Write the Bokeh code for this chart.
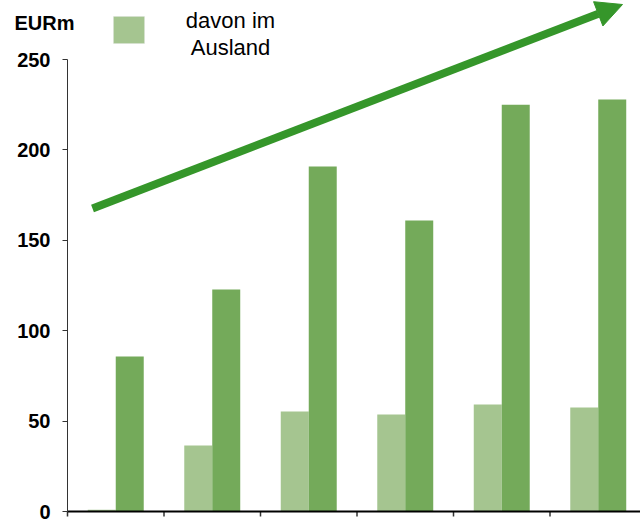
from bokeh.plotting import figure
from bokeh.models import (FixedTicker, Label, BoxAnnotation, Arrow, NormalHead,
                          ColumnDataSource, Range1d)
from bokeh.embed import file_html
from bokeh.resources import INLINE

# ---- data ----
categories = ["1", "2", "3", "4", "5", "6"]
ausland = [1, 36.5, 55.3, 53.6, 59.2, 57.5]
gesamt = [85.7, 122.8, 190.8, 161, 225, 227.9]
y_ticks = [0, 50, 100, 150, 200, 250]

# ---- geometry helpers (page pixels -> data) ----
W, H = 640, 521
X0, CAT_W = 67.0, 96.5          # page x of y axis, px per category
Y0, PX_PER_UNIT = 511.0, 1.808  # page y of zero, px per EURm
def dx(px):
    return (px - X0) / CAT_W
def dy(py):
    return (Y0 - py) / PX_PER_UNIT

p = figure(width=W, height=H, output_backend="svg", toolbar_location=None,
           x_range=Range1d(dx(0), dx(W)),
           y_range=Range1d(dy(H), dy(0)),
           min_border_left=0, min_border_right=0,
           min_border_top=0, min_border_bottom=0)
p.outline_line_color = None
p.grid.grid_line_color = None
p.background_fill_color = "white"
p.border_fill_color = "white"
p.xaxis.visible = False

idx = list(range(len(categories)))
bw = 0.29
src = ColumnDataSource(dict(
    xl=[i + 0.5 - bw / 2 for i in idx],
    xd=[i + 0.5 + bw / 2 for i in idx],
    ausland=ausland, gesamt=gesamt, cat=categories))
p.vbar(x="xl", top="ausland", bottom=0, width=bw, source=src,
       fill_color="#A5C590", line_color=None)
p.vbar(x="xd", top="gesamt", bottom=0, width=bw, source=src,
       fill_color="#74AA5A", line_color=None)

# category axis: baseline + boundary ticks
bounds = list(range(len(categories) + 1))
p.segment(x0=bounds, y0=[0] * len(bounds), x1=bounds,
          y1=[-5 / PX_PER_UNIT] * len(bounds), line_color="#333333", line_width=1.5)
p.segment(x0=[0], y0=[0], x1=[len(categories)], y1=[0], line_color="black", line_width=2)

# value axis, pinned at the first category boundary
ya = p.yaxis[0]
ya.fixed_location = 0
ya.ticker = FixedTicker(ticks=y_ticks)
ya.bounds = (0, 250)
ya.major_label_text_font = "Liberation Sans"
ya.major_label_text_font_style = "bold"
ya.major_label_text_font_size = "20px"
ya.major_label_text_color = "black"
ya.major_tick_in = 0
ya.major_tick_out = 5
ya.minor_tick_line_color = None
ya.major_label_standoff = 12
ya.axis_line_color = "#333333"
ya.major_tick_line_color = "#333333"

# trend arrow
p.add_layout(Arrow(x_start=dx(92), y_start=dy(208), x_end=dx(622), y_end=dy(4),
                   line_color="#35962A", line_width=8,
                   end=NormalHead(size=26, fill_color="#35962A", line_color="#35962A")))

# unit label
p.add_layout(Label(x=dx(14), y=dy(22), text="EURm",
                   text_font="Liberation Sans", text_font_style="bold",
                   text_font_size="20px", text_color="black",
                   text_baseline="alphabetic"))

# legend
p.add_layout(BoxAnnotation(left=dx(113), right=dx(144), top=dy(16), bottom=dy(43),
                           fill_color="#A5C590", fill_alpha=1,
                           line_color="#DDDDDD", line_width=1))
p.add_layout(Label(x=dx(230), y=dy(20), text="davon im", text_font="Liberation Sans",
                   text_font_size="22px", text_color="black", text_align="center",
                   text_baseline="alphabetic"))
p.add_layout(Label(x=dx(230), y=dy(47), text="Ausland", text_font="Liberation Sans",
                   text_font_size="22px", text_color="black", text_align="center",
                   text_baseline="alphabetic"))

open("out.html", "w").write(file_html(p, INLINE))
